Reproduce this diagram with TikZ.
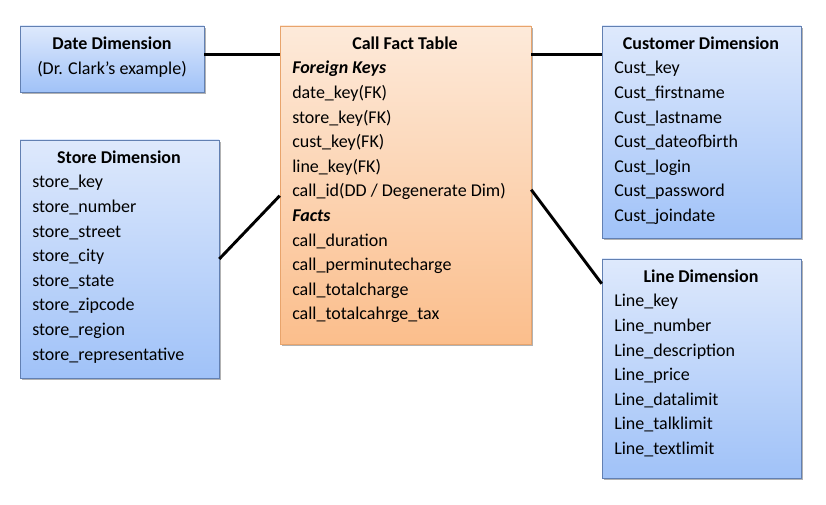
\documentclass[tikz,border=0pt]{standalone}
\usepackage{fontspec}
\setmainfont{Carlito}
\usepackage{tikz}
\usetikzlibrary{calc}
\usetikzlibrary{fit}
\usetikzlibrary{shadows}
\definecolor{dim-top}{RGB}{222, 233, 252}
\definecolor{dim-bottom}{RGB}{160, 194, 248}
\definecolor{dim-border}{RGB}{98, 128, 178}
\definecolor{fact-top}{RGB}{253, 234, 218}
\definecolor{fact-bottom}{RGB}{251, 190, 140}
\definecolor{fact-border}{RGB}{232, 164, 108}

\begin{document}
\begin{tikzpicture}[x=0.75pt,y=-0.75pt,
   font=\fontsize{13.5pt}{16pt}\selectfont,
   dimbox/.style={draw=dim-border,top color=dim-top,bottom color=dim-bottom,inner sep=0pt,
      drop shadow={shadow xshift=1.5pt,shadow yshift=-1.5pt,fill=black,opacity=0.3}},
   factbox/.style={draw=fact-border,top color=fact-top,bottom color=fact-bottom,inner sep=0pt,
      drop shadow={shadow xshift=1.5pt,shadow yshift=-1.5pt,fill=black,opacity=0.3}},
   title/.style={font=\fontsize{13.5pt}{16pt}\selectfont\bfseries,inner sep=0pt,text height=10pt,text depth=3.5pt},
   item/.style={anchor=west,inner sep=0pt,text height=10pt,text depth=3.5pt},
   link/.style={line width=2.2pt,black}]
   \useasboundingbox (0,0) rectangle (826,505);
   % boxes
   \node[dimbox,fit={(20,26) (204,92)}] (date) {};
   \node[dimbox,fit={(20,140) (219,378)}] (store) {};
   \node[factbox,fit={(280,26) (531,344)}] (fact) {};
   \node[dimbox,fit={(602,26) (801,238)}] (customer) {};
   \node[dimbox,fit={(602,259) (801,478)}] (line) {};
   % connectors
   \draw[link] ($(date.north east)+(0,29)$) -- ($(fact.north west)+(0,29)$);
   \draw[link] (store.east) -- ($(fact.north west)+(0,170)$);
   \draw[link] ($(fact.north east)+(0,29)$) -- ($(customer.north west)+(0,29)$);
   \draw[link] ($(fact.north east)+(0,164)$) -- ($(line.north west)+(0,25)$);
   % date dimension
   \node[title] (date-title) at (112,45) {Date Dimension};
   \node[inner sep=0pt,text height=10pt,text depth=3.5pt] (date-note) at (112,70) {(Dr. Clark’s example)};
   % store dimension
   \node[title] (store-title) at (119,159) {Store Dimension};
   \foreach \txt [count=\i] in {store\_key,store\_number,store\_street,store\_city,
      store\_state,store\_zipcode,store\_region,store\_representative}
      \node[item] (store-\i) at (32,159+24.6*\i) {\txt};
   % call fact table
   \node[title] (fact-title) at (405,45) {Call Fact Table};
   \foreach \txt [count=\i] in {\textbf{\textit{Foreign Keys}},date\_key(FK),store\_key(FK),
      cust\_key(FK),line\_key(FK),call\_id(DD / Degenerate Dim),\textbf{\textit{Facts}},
      call\_duration,call\_perminutecharge,call\_totalcharge,call\_totalcahrge\_tax}
      \node[item] (fact-\i) at (292,45+24.6*\i) {\txt};
   % customer dimension
   \node[title] (customer-title) at (701,45) {Customer Dimension};
   \foreach \txt [count=\i] in {Cust\_key,Cust\_firstname,Cust\_lastname,Cust\_dateofbirth,
      Cust\_login,Cust\_password,Cust\_joindate}
      \node[item] (customer-\i) at (614,45+24.6*\i) {\txt};
   % line dimension
   \node[title] (line-title) at (701,278) {Line Dimension};
   \foreach \txt [count=\i] in {Line\_key,Line\_number,Line\_description,Line\_price,
      Line\_datalimit,Line\_talklimit,Line\_textlimit}
      \node[item] (line-\i) at (614,278+24.6*\i) {\txt};
\end{tikzpicture}
\end{document}
